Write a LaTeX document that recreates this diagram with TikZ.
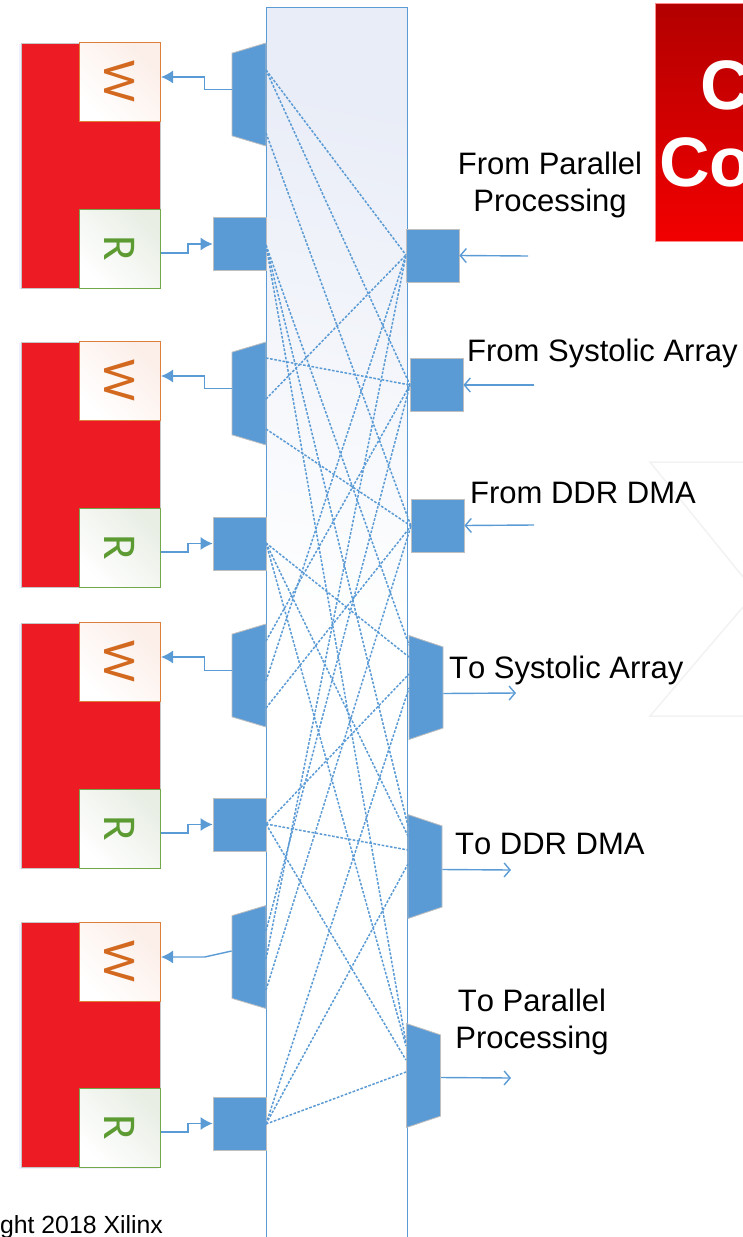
\documentclass[tikz,border=0pt]{standalone}
\usepackage{fontspec}
\setmainfont[Kerning=Off]{Liberation Sans}
\newfontfamily\letterfont{Carlito}
\usetikzlibrary{shapes.geometric,arrows.meta,shadows}

\begin{document}
\begin{tikzpicture}[x=1pt, y=-1pt, >={Straight Barb[length=6pt,width=14pt]},
    mem/.style = {draw=black!22, line width=0.8pt, fill=memred, minimum width=139pt, minimum height=245pt, inner sep=0pt, drop shadow={shadow xshift=-2pt, shadow yshift=-1pt, fill=blue!40, opacity=.15}},
    wbox/.style = {draw=wline, line width=1pt, top color=wtint, bottom color=white, shading angle=-45, minimum width=79pt, minimum height=81pt, inner sep=0pt, rotate=-90, text=wtext, font=\letterfont\fontsize{47}{47}\selectfont},
    rbox/.style = {draw=rline, line width=1pt, top color=rtint, bottom color=white, shading angle=-45, minimum width=79pt, minimum height=81pt, inner sep=0pt, rotate=-90, text=rtext, font=\letterfont\fontsize{47}{47}\selectfont},
    port/.style = {draw=black!25, line width=0.8pt, fill=portblue, minimum width=53pt, minimum height=53pt, inner sep=0pt},
    muxl/.style = {trapezium, trapezium stretches=true, rotate=90, draw=black!25, line width=0.8pt, fill=portblue, minimum width=103pt, minimum height=34pt, trapezium angle=83, inner sep=1pt},
    muxr/.style = {trapezium, trapezium stretches=true, rotate=270, draw=black!25, line width=0.8pt, fill=portblue, minimum width=104pt, minimum height=34pt, trapezium angle=82, inner sep=1pt},
    label/.style = {font=\fontsize{31}{37}\selectfont, align=center, inner sep=0pt},
    wire/.style = {draw=portblue, line width=1.4pt},
    tip/.style = {wire, -{Latex[length=12pt,width=13pt]}},
    link/.style = {draw=portblue, line width=1.5pt, dash pattern=on 2.6pt off 1.6pt}]
\definecolor{memred}{HTML}{ED1C24}
\definecolor{portblue}{HTML}{5B9BD5}
\definecolor{wline}{HTML}{DD7E3B}
\definecolor{wtint}{HTML}{FCEEE8}
\definecolor{wtext}{HTML}{D2691F}
\definecolor{rline}{HTML}{70A84A}
\definecolor{rtint}{HTML}{E8EEE4}
\definecolor{rtext}{HTML}{5C9A32}
\definecolor{bandtop}{HTML}{E9EDF7}
\useasboundingbox (0,0) rectangle (743,1237);

% faint shape behind the labels
\draw[draw=black!5, line width=1.5pt] (743,462) -- (650,462) -- (743,577);
\draw[draw=black!5, line width=1.5pt] (743,607) -- (650,716) -- (743,716);

% title box, cut by the page
\node[draw=red!45, line width=1pt, top color=red!70!black, bottom color=red!95!black, minimum width=110pt, minimum height=238pt, inner sep=0pt] (title) at (710,122) {};
\node[text=white, font=\bfseries\fontsize{70}{70}\selectfont, anchor=base west, inner sep=0pt] (t1) at (700,109) {C};
\node[text=white, font=\bfseries\fontsize{70}{70}\selectfont, anchor=base west, inner sep=0pt] (t2) at (659,186) {Co};

% bus
\node[draw=portblue, line width=1pt, shading=axis, top color=bandtop, bottom color=white, middle color=white, shading angle=-12, minimum width=141pt, minimum height=1260pt, inner sep=0pt] (bus) at (336.5,637) {};

% memories
\node[mem] (m1) at (90.5,165.5) {};
\node[mem] (m2) at (90.5,464.5) {};
\node[mem] (m3) at (90.5,745.5) {};
\node[mem] (m4) at (90.5,1045) {};
\node[wbox] (w1) at (120,81.5) {W};
\node[wbox] (w2) at (120,380.5) {W};
\node[wbox] (w3) at (120,661.5) {W};
\node[wbox] (w4) at (120,961.5) {W};
\node[rbox] (r1) at (120,248.5) {R};
\node[rbox] (r2) at (120,547.5) {R};
\node[rbox] (r3) at (120,828.5) {R};
\node[rbox] (r4) at (120,1127.5) {R};

% left ports
\node[muxl] (wm1) at (249,94.5) {};
\node[muxl] (wm2) at (249,393.5) {};
\node[muxl] (wm3) at (249,675.5) {};
\node[muxl] (wm4) at (249,957) {};
\node[port] (rp1) at (239.5,244) {};
\node[port] (rp2) at (239.5,543.5) {};
\node[port] (rp3) at (239.5,824.5) {};
\node[port] (rp4) at (239.5,1123.5) {};

% right ports
\node[port] (fp) at (432.5,255.5) {};
\node[port] (fs) at (436.5,385) {};
\node[port] (fd) at (437.5,525.5) {};
\node[muxr] (ts) at (426,687.5) {};
\node[muxr] (td) at (425,866.5) {};
\node[muxr] (tp) at (423.5,1075.5) {};

% free ends
\coordinate (ifp) at (528,256);
\coordinate (ifs) at (534,385);
\coordinate (ifd) at (534,525);
\coordinate (ots) at (516,693);
\coordinate (otd) at (511,870);
\coordinate (otp) at (511,1078);

% points on the port edges
\coordinate (a1) at (266,70);
\coordinate (a2) at (266,133);
\coordinate (b1) at (266,358);
\coordinate (b2) at (266,399);
\coordinate (b3) at (266,429);
\coordinate (c1) at (266,641);
\coordinate (c2) at (266,681);
\coordinate (c3) at (266,708);
\coordinate (d1) at (266,931);
\coordinate (d2) at (266,959);
\coordinate (d3) at (266,990);
\coordinate (e1) at (266,245);
\coordinate (e2) at (266,543);
\coordinate (e3) at (266,824);
\coordinate (e4) at (266,1124);
\coordinate (f1) at (406,255);
\coordinate (f2) at (410,385);
\coordinate (f3) at (411,526);
\coordinate (s1) at (409,645);
\coordinate (s2) at (409,657);
\coordinate (s3) at (409,674);
\coordinate (s4) at (409,688);
\coordinate (g1) at (408,826);
\coordinate (g2) at (408,836);
\coordinate (g3) at (408,850);
\coordinate (g4) at (408,864);
\coordinate (p1) at (406,1043);
\coordinate (p2) at (406,1046);
\coordinate (p3) at (406,1060);
\coordinate (p4) at (406,1072);

% links from the inputs
\draw[link] (a1) -- (f1);
\draw[link] (a1) -- (f2);
\draw[link] (a2) -- (f3);
\draw[link] (b1) -- (f2);
\draw[link] (b2) -- (f1);
\draw[link] (b3) -- (f3);
\draw[link] (c1) -- (f2);
\draw[link] (c2) -- (f1);
\draw[link] (c3) -- (f3);
\draw[link] (d1) -- (f2);
\draw[link] (d2) -- (f1);
\draw[link] (d3) -- (f3);

% links to the outputs
\draw[link] (e1) -- (s1);
\draw[link] (e1) -- (g1);
\draw[link] (e1) -- (p1);
\draw[link] (e2) -- (s2);
\draw[link] (e2) -- (g2);
\draw[link] (e2) -- (p2);
\draw[link] (e3) -- (s3);
\draw[link] (e3) -- (g3);
\draw[link] (e3) -- (p3);
\draw[link] (e4) -- (s4);
\draw[link] (e4) -- (g4);
\draw[link] (e4) -- (p4);

% memory connections
\draw[tip] ([yshift=5pt]wm1.north) -- ++(-27,0) |- ([yshift=4.5pt]w1.north);
\draw[tip] ([yshift=5pt]wm2.north) -- ++(-27,0) |- ([yshift=4.5pt]w2.north);
\draw[tip] ([yshift=5pt]wm3.north) -- ++(-27,0) |- ([yshift=4.5pt]w3.north);
\draw[tip] ([yshift=6pt]wm4.north) -- ++(-27,6) -- ([yshift=4.5pt]w4.north);
\draw[tip] ([yshift=-4.5pt]r1.north) -- ++(27,0) |- (rp1.west);
\draw[tip] ([yshift=-4.5pt]r2.north) -- ++(27,0) |- (rp2.west);
\draw[tip] ([yshift=-4.5pt]r3.north) -- ++(27,0) |- (rp3.west);
\draw[tip] ([yshift=-4.5pt]r4.north) -- ++(27,0) |- (rp4.west);

% outer connections
\draw[wire, ->] (ifp) -- (fp.east);
\draw[wire, ->] (ifs) -- (fs.east);
\draw[wire, ->] (ifd) -- (fd.east);
\draw[wire, ->] ([yshift=-6pt]ts.north) -- (ots);
\draw[wire, ->] ([yshift=-3pt]td.north) -- (otd);
\draw[wire, ->] ([yshift=-2pt]tp.north) -- (otp);

% labels
\node[label] (l1) at (550,185) {From Parallel\\Processing};
\node[label, anchor=base west] (l2) at (467,361) {From Systolic Array};
\node[label, anchor=base west] (l3) at (470,503) {From DDR DMA};
\node[label, anchor=base west] (l4) at (449,678) {To Systolic Array};
\node[label, anchor=base west] (l5) at (455,854) {To DDR DMA};
\node[label] (l6) at (532,1022) {To Parallel\\Processing};
\node[anchor=base east, inner sep=0pt, font=\fontsize{24.8}{28}\selectfont] (l7) at (163,1233) {ght 2018 Xilinx};
\end{tikzpicture}
\end{document}
